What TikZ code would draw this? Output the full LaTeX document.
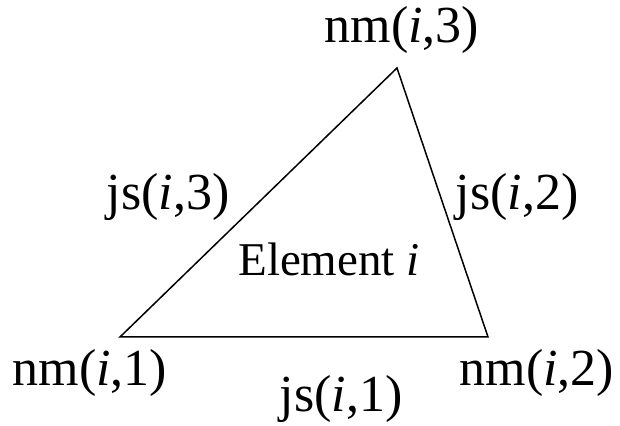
\documentclass[tikz,border=0pt]{standalone}
\usepackage{fontspec}
\setmainfont{Liberation Serif}
\usepackage{tikz}

\begin{document}
\begin{tikzpicture}[x=1pt,y=1pt,
		lbl/.style={anchor=base, inner sep=0pt, font=\fontsize{52}{56}\selectfont}]
		\useasboundingbox (0,0) rectangle (620,425);
		
		% vertices of the element
		\coordinate (P1) at (120,88);
		\coordinate (P2) at (488,88);
		\coordinate (P3) at (397,357);
		
		% triangle
		\draw[line width=1.5pt, line join=miter] (P1) -- (P2) -- (P3) -- cycle;
		
		% node numbers
		\node[lbl] (n3) at (402,382) {nm(\textit{i},3)};
		\node[lbl] (n1) at (90,39) {nm(\textit{i},1)};
		\node[lbl] (n2) at (537,39) {nm(\textit{i},2)};
		
		% side numbers
		\node[lbl] (s3) at (168,215) {js(\textit{i},3)};
		\node[lbl] (s2) at (517,215) {js(\textit{i},2)};
		\node[lbl] (s1) at (341,13) {js(\textit{i},1)};
		
		% element label
		\node[lbl, font=\fontsize{47}{50}\selectfont] (el) at (329,149) {Element \textit{i}};
	\end{tikzpicture}
\end{document}
